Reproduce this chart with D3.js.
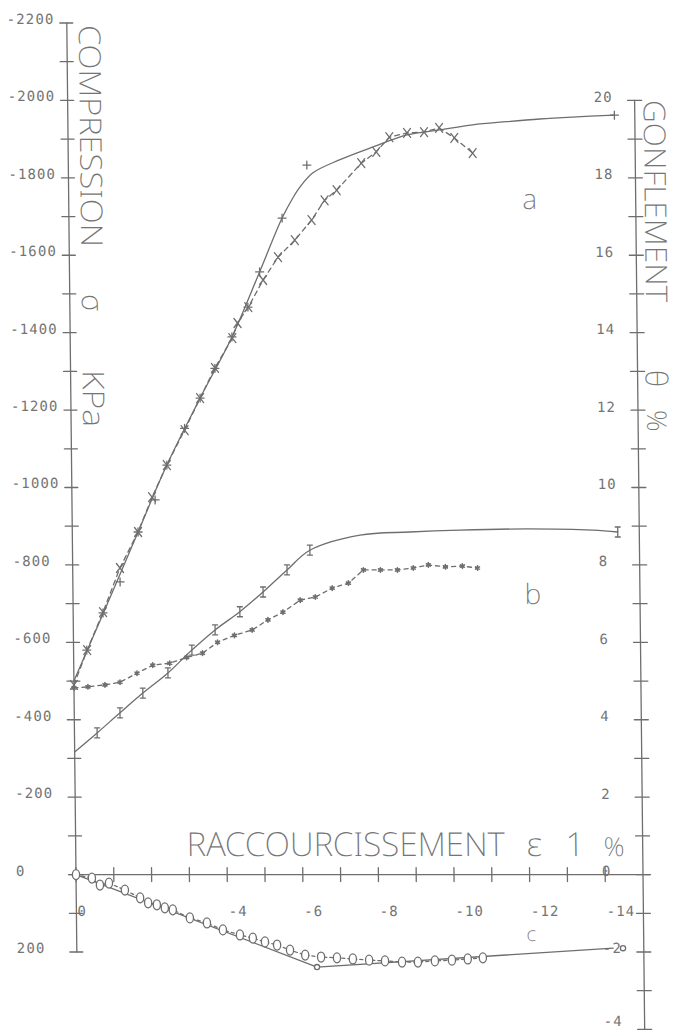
<!DOCTYPE html>
<html><head><meta charset="utf-8">
<script src="https://cdn.jsdelivr.net/npm/d3@7"></script>
<style>body{margin:0;background:#fff}svg{display:block}</style>
</head><body><svg id="chart" width="680" height="1031"></svg>
<script>
// ---------- data ----------
const strainTicks = [0,-1,-2,-3,-4,-5,-6,-7,-8,-9,-10,-11,-12,-13,-14];
const strainLabels = [0,-4,-6,-8,-10,-12,-14];
const sigmaTicks = d3.range(-2200, 201, 100);
const sigmaLabels = [-2200,-2000,-1800,-1600,-1400,-1200,-1000,-800,-600,-400,-200,0,200];
const swellTicks = d3.range(20, -4.5, -1);
const swellLabels = [20,18,16,14,12,10,8,6,4,2,0,-2,-4];

// a : compression sigma (kPa) vs strain eps1 (%)
const sigmaA_fit = [[0,-500],[-0.8,-676],[-1.74,-885],[-2.52,-1058],[-3.42,-1231],[-4.28,-1389],[-5.03,-1557],[-5.64,-1696],[-5.93,-1748],[-6.12,-1776],[-6.47,-1813],[-7.19,-1847],[-8.07,-1880],[-8.97,-1911],[-9.84,-1924],[-10.71,-1937],[-11.6,-1945],[-12.48,-1952],[-13.35,-1957],[-14.46,-1962]];
const sigmaA_pts = [[-0.35,-580],[-0.79,-676],[-1.25,-756],[-1.74,-885],[-2.2,-968],[-2.52,-1058],[-3.0,-1153],[-3.42,-1231],[-3.82,-1308],[-4.28,-1389],[-4.71,-1466],[-5.03,-1557],[-5.64,-1696],[-6.31,-1833],[-14.46,-1962]];
// a : swelling theta (%) vs strain
const thetaA = [[0,4.9],[-0.36,5.8],[-0.79,6.78],[-1.25,7.92],[-1.74,8.85],[-2.12,9.75],[-2.52,10.58],[-3.0,11.48],[-3.42,12.31],[-3.82,13.09],[-4.29,13.86],[-4.43,14.25],[-4.72,14.66],[-5.12,15.36],[-5.52,15.95],[-5.97,16.39],[-6.42,16.91],[-6.77,17.42],[-7.09,17.68],[-7.75,18.38],[-8.15,18.67],[-8.5,19.05],[-8.97,19.16],[-9.42,19.18],[-9.82,19.29],[-10.22,19.03],[-10.7,18.64]];

// b
const sigmaB_fit = [[0,-317],[-0.6,-366],[-1.21,-418],[-1.82,-469],[-2.49,-521],[-3.13,-580],[-3.75,-632],[-4.41,-679],[-5.03,-730],[-5.67,-787],[-6.28,-838],[-7.61,-877],[-8.93,-885],[-10.25,-890],[-12.02,-893],[-13.77,-890],[-14.43,-885]];
const sigmaB_pts = [[-0.6,-366],[-1.21,-418],[-1.82,-469],[-2.49,-521],[-3.13,-580],[-3.75,-632],[-4.41,-679],[-5.03,-730],[-5.67,-787],[-6.28,-838],[-14.43,-885]];
const thetaB = [[0,4.82],[-0.37,4.85],[-0.82,4.9],[-1.22,4.97],[-1.67,5.2],[-2.09,5.41],[-2.54,5.46],[-2.99,5.61],[-3.41,5.72],[-3.81,6.0],[-4.26,6.18],[-4.73,6.32],[-5.15,6.58],[-5.55,6.78],[-6.01,7.09],[-6.41,7.17],[-6.86,7.4],[-7.29,7.53],[-7.69,7.87],[-8.14,7.87],[-8.59,7.87],[-9.01,7.92],[-9.41,8.0],[-9.86,7.95],[-10.31,7.97],[-10.71,7.92]];

// c
const curveC_fit = [[0,0],[-6.35,-2.39],[-14.19,-1.9]];
const curveC_ends = [[-6.35,-2.39],[-14.45,-1.9]];
const curveC_pts = [[0,0],[-0.42,-0.09],[-0.63,-0.27],[-0.87,-0.22],[-1.29,-0.40],[-1.69,-0.60],[-1.9,-0.73],[-2.13,-0.78],[-2.34,-0.86],[-2.55,-0.91],[-3.0,-1.12],[-3.45,-1.25],[-3.87,-1.43],[-4.32,-1.56],[-4.66,-1.64],[-4.98,-1.74],[-5.3,-1.82],[-5.64,-1.95],[-6.04,-2.08],[-6.46,-2.13],[-6.88,-2.15],[-7.3,-2.18],[-7.73,-2.21],[-8.15,-2.23],[-8.6,-2.26],[-9.02,-2.26],[-9.47,-2.23],[-9.92,-2.21],[-10.34,-2.18],[-10.74,-2.15]];

// ---------- drawing ----------
const INK = "#6e6e6e", TXT = "#747474";
const TITLE_FONT = "'Noto Sans', 'DejaVu Sans', sans-serif";
const NUM_FONT = "'DejaVu Sans Mono', monospace";

const x = d3.scaleLinear().domain([0,-15]).range([76, 643]);
const yS = d3.scaleLinear().domain([200,-2200]).range([952, 23]);
const yT = d3.scaleLinear().domain([-2,22]).range([952, 23]);
const y0 = yS(0);

const svg = d3.select("#chart");
svg.append("rect").attr("width",680).attr("height",1031).attr("fill","#fff");
const g = svg.append("g")
  .attr("transform", `translate(0,${y0}) skewX(0.62) translate(0,${-y0})`)
  .attr("fill","none").attr("stroke",INK).attr("stroke-width",1.3)
  .attr("stroke-linecap","round").attr("stroke-linejoin","round");

// axes lines
const xL = x(0), xR = x(-15);
g.append("line").attr("x1",xL).attr("x2",xL).attr("y1",yS(-2200)).attr("y2",yS(200));
g.append("line").attr("x1",xR).attr("x2",xR).attr("y1",yT(20)).attr("y2",yT(-4));
g.append("line").attr("x1",x(0.2)).attr("x2",x(-15.2)).attr("y1",y0).attr("y2",y0);

// ticks
g.selectAll(".lt").data(sigmaTicks).join("line")
  .attr("x1",xL-7).attr("x2",xL+6).attr("y1",d=>yS(d)).attr("y2",d=>yS(d));
g.selectAll(".rt").data(swellTicks).join("line")
  .attr("x1",xR-7).attr("x2",xR+7).attr("y1",d=>yT(d)).attr("y2",d=>yT(d));
g.selectAll(".xt").data(strainTicks).join("line")
  .attr("x1",d=>x(d)).attr("x2",d=>x(d)).attr("y1",y0-7).attr("y2",y0+7);

// tick labels
const txt = g.append("g").attr("stroke","none").attr("fill",TXT)
  .attr("font-family",NUM_FONT).attr("font-size",14).attr("letter-spacing",1.1);
txt.selectAll(".ll").data(sigmaLabels).join("text")
  .attr("x",16).attr("y",d=>yS(d)+1).text(d=>d);
txt.selectAll(".rl").data(swellLabels).join("text")
  .attr("x",xR-41).attr("y",d=>Math.min(yT(d)+1.5, 1026)).text(d=>d);
txt.selectAll(".xl").data(strainLabels).join("text")
  .attr("x",d=>x(d)+1).attr("y",y0+41).text(d=>d);

// titles
const tt = g.append("g").attr("stroke","none").attr("fill",TXT)
  .attr("font-family",TITLE_FONT).attr("font-weight",200);
function vtext(str, bx, by, size, len){
  const t = tt.append("text").attr("transform",`translate(${bx},${by}) rotate(90)`)
    .attr("font-size",size).text(str);
  if(len) t.attr("textLength",len).attr("lengthAdjust","spacingAndGlyphs");
  return t;
}
vtext("COMPRESSION", 88, 25, 30, 222);
vtext("σ", 88, 294, 30);
vtext("KPa", 88, 370, 30, 57);
vtext("GONFLEMENT", 652, 100, 30, 202);
vtext("θ", 651, 370, 30);
vtext("%", 652, 410, 27);
const ht = tt.append("text").attr("y",856).attr("font-size",33);
ht.append("tspan").attr("x",187).attr("textLength",318).attr("lengthAdjust","spacingAndGlyphs").text("RACCOURCISSEMENT");
ht.append("tspan").attr("x",527).text("ε");
ht.append("tspan").attr("x",566).text("1");
ht.append("tspan").attr("x",604).attr("font-size",26).text("%");

// series labels
tt.append("text").attr("x",x(-12.0)).attr("y",yT(17.2)).attr("font-size",28).text("a");
tt.append("text").attr("x",x(-11.95)).attr("y",yT(7.0)).attr("font-size",28).text("b");
tt.append("text").attr("x",x(-11.9)).attr("y",941).attr("font-size",20).text("c");

// lines
const lineS = d3.line().x(d=>x(d[0])).y(d=>yS(d[1]));
const lineT = d3.line().x(d=>x(d[0])).y(d=>yT(d[1]));
const smooth = d3.curveCatmullRom.alpha(0.5);

g.append("path").attr("d", lineS.curve(smooth)(sigmaA_fit));
g.append("path").attr("d", lineS.curve(smooth)(sigmaB_fit));
g.append("path").attr("d", lineT.curve(d3.curveLinear)(curveC_fit));
g.append("path").attr("d", lineT.curve(d3.curveLinear)(thetaA)).attr("stroke-dasharray","5,4");
g.append("path").attr("d", lineT.curve(d3.curveLinear)(thetaB)).attr("stroke-dasharray","4,4");
g.append("path").attr("d", lineT.curve(d3.curveLinear)(curveC_pts)).attr("stroke-dasharray","3,3");

// markers
const plus = "M-4,0H4M0,-4V4";
const cross = "M-3.5,-4.5L3.5,4.5M3.5,-4.5L-3.5,4.5";
const ibar = "M0,-5V5M-2.5,-5H2.5M-2.5,5H2.5";
const star = d3.symbol(d3.symbolAsterisk, 14)();
g.selectAll(".pa").data(sigmaA_pts).join("path").attr("d",plus)
  .attr("transform",d=>`translate(${x(d[0])},${yS(d[1])})`);
g.selectAll(".ta").data(thetaA).join("path").attr("d",cross)
  .attr("transform",d=>`translate(${x(d[0])},${yT(d[1])})`);
g.selectAll(".pb").data(sigmaB_pts).join("path").attr("d",ibar)
  .attr("transform",d=>`translate(${x(d[0])},${yS(d[1])})`);
g.selectAll(".tb").data(thetaB).join("path").attr("d",star).attr("stroke-width",1.6)
  .attr("transform",d=>`translate(${x(d[0])},${yT(d[1])})`);
g.selectAll(".pc").data(curveC_pts).join("ellipse").attr("rx",3.6).attr("ry",5).attr("fill","#fff")
  .attr("cx",d=>x(d[0])).attr("cy",d=>yT(d[1]));
g.selectAll(".ec").data(curveC_ends).join("circle").attr("r",2.6).attr("fill","#fff")
  .attr("cx",d=>x(d[0])).attr("cy",d=>yT(d[1]));
</script></body></html>
